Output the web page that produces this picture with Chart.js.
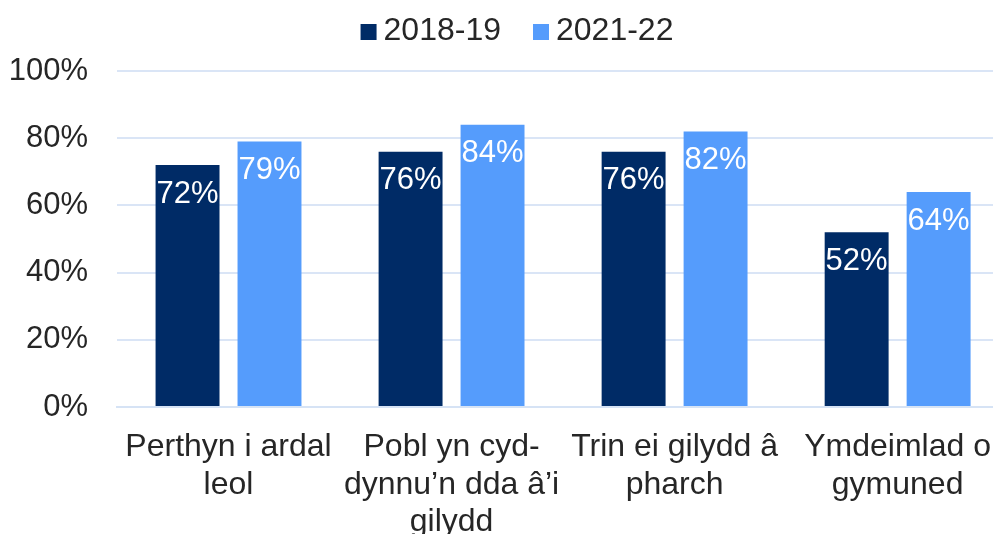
<!DOCTYPE html>
<html>
<head>
<meta charset="utf-8">
<script src="https://cdn.jsdelivr.net/npm/chart.js@4"></script>
<style>
html,body{margin:0;padding:0;background:#fff;overflow:hidden;}
#wrap{width:1013px;height:534px;}
</style>
</head>
<body>
<div id="wrap"><canvas id="c" width="1013" height="534"></canvas></div>
<script>
const categories = [
  ["Perthyn i ardal", "leol"],
  ["Pobl yn cyd-", "dynnu’n dda â’i", "gilydd"],
  ["Trin ei gilydd â", "pharch"],
  ["Ymdeimlad o", "gymuned"]
];
const seriesNames = ["2018-19", "2021-22"];
const values2018 = [72, 76, 76, 52];
const values2021 = [79, 84, 82, 64];
const yTicks = [0, 20, 40, 60, 80, 100];

const FONT = '"Liberation Sans", Arial, sans-serif';

const labelPlugin = {
  id: 'barLabels',
  afterDatasetsDraw(chart) {
    const ctx = chart.ctx;
    ctx.save();
    ctx.fillStyle = '#ffffff';
    ctx.font = '31px ' + FONT;
    ctx.textAlign = 'center';
    ctx.textBaseline = 'middle';
    chart.data.datasets.forEach((ds, i) => {
      const meta = chart.getDatasetMeta(i);
      meta.data.forEach((bar, j) => {
        ctx.fillText(ds.data[j] + '%', bar.x, bar.y + 29);
      });
    });
    ctx.restore();
  }
};

// Compact legend (small gap between swatch and text, like the original)
const compactLegend = {
  id: 'compactLegend',
  afterDraw(chart) {
    const ctx = chart.ctx;
    const box = 16, gap = 7, itemGap = 32, centerX = 517, centerY = 32;
    ctx.save();
    ctx.font = '32px ' + FONT;
    ctx.textBaseline = 'middle';
    ctx.textAlign = 'left';
    const items = chart.data.datasets.map(ds => ({
      text: ds.label, color: ds.backgroundColor, w: ctx.measureText(ds.label).width
    }));
    let total = items.reduce((s, it) => s + box + gap + it.w, 0) + itemGap * (items.length - 1);
    let x = centerX - total / 2;
    items.forEach(it => {
      ctx.fillStyle = it.color;
      ctx.fillRect(x, centerY - box / 2, box, box);
      ctx.fillStyle = '#262626';
      ctx.fillText(it.text, x + box + gap, centerY - 1);
      x += box + gap + it.w + itemGap;
    });
    ctx.restore();
  }
};

new Chart(document.getElementById('c'), {
  type: 'bar',
  data: {
    labels: categories,
    datasets: [
      { label: seriesNames[0], data: values2018, backgroundColor: '#002B66', borderWidth: 0 },
      { label: seriesNames[1], data: values2021, backgroundColor: '#559CFC', borderWidth: 0 }
    ]
  },
  options: {
    responsive: false,
    animation: false,
    devicePixelRatio: 1,
    layout: { padding: { left: 0, right: 0, top: 71, bottom: 0 } },
    datasets: { bar: { categoryPercentage: 0.735, barPercentage: 0.78 } },
    plugins: {
      legend: { display: false },
      tooltip: { enabled: false }
    },
    scales: {
      x: {
        afterFit(scale) { scale.height = 127; },
        grid: { display: false, drawTicks: false },
        border: { color: '#D6E3F5', width: 2 },
        ticks: {
          color: '#262626',
          font: { family: FONT, size: 32, lineHeight: 1.16 },
          padding: 22, maxRotation: 0, autoSkip: false
        }
      },
      y: {
        min: 0, max: 100,
        afterFit(scale) { scale.width = 117; },
        afterBuildTicks(scale) { scale.ticks = yTicks.map(v => ({ value: v })); },
        grid: { color: '#DAE5F6', lineWidth: 2, drawTicks: false },
        border: { display: false },
        ticks: {
          color: '#262626',
          font: { family: FONT, size: 31 },
          padding: 29,
          callback: v => v + '%'
        }
      }
    }
  },
  plugins: [labelPlugin, compactLegend]
});
</script>
</body>
</html>
